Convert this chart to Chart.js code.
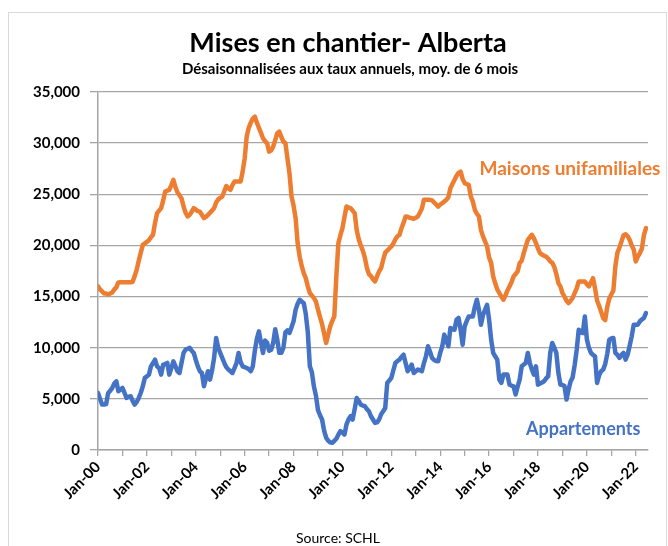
<!DOCTYPE html>
<html>
<head>
<meta charset="utf-8">
<script src="https://cdn.jsdelivr.net/npm/chart.js@4.4.0/dist/chart.umd.min.js"></script>
<style>
  html, body { margin: 0; padding: 0; background: #fff; overflow: hidden; }
  #wrap { position: relative; width: 668px; height: 546px; }
  #frame { position: absolute; left: 8px; top: 12px; width: 657px; height: 600px; border: 1px solid #d9d9d9; }
  canvas { position: absolute; left: 0; top: 0; }
</style>
</head>
<body>
<div id="wrap">
  <div id="frame"></div>
  <canvas id="chart" width="668" height="546"></canvas>
</div>
<script>
// Monthly series, Jan-00 .. Jun-22 (SAAR, 6-month average)
const chartTitle = 'Mises en chantier- Alberta';
const chartSubtitle = 'Désaisonnalisées aux taux annuels, moy. de 6 mois';
const sourceText = 'Source: SCHL';
const seriesNames = ['Maisons unifamiliales', 'Appartements'];

const tickLabels = ['Jan-00', 'Jan-02', 'Jan-04', 'Jan-06', 'Jan-08', 'Jan-10',
                    'Jan-12', 'Jan-14', 'Jan-16', 'Jan-18', 'Jan-20', 'Jan-22'];

const maisons = [
  16000, 15700, 15500, 15300, 15300, 15200, 15300, 15400, 15700, 15900, 16380, 16400, // 2000
  16400, 16400, 16400, 16400, 16400, 16450, 17000, 17620, 18500, 19300, 20060, 20200, // 2001
  20350, 20500, 20800, 21040, 22200, 23160, 23400, 23650, 24400, 25270, 25350, 25430, // 2002
  25900, 26410, 25700, 25200, 24900, 24600, 23800, 23200, 22830, 22990, 23300, 23650, // 2003
  23500, 23350, 23300, 23000, 22670, 22800, 22990, 23200, 23400, 23650, 24200, 24500, // 2004
  24650, 24780, 25300, 25800, 25600, 25430, 25900, 26240, 26240, 26240, 26240, 27200, // 2005
  28500, 30640, 31500, 32000, 32400, 32590, 32000, 31500, 31000, 30480, 30200, 29990, // 2006
  29170, 29300, 29660, 30300, 30970, 31130, 30600, 30150, 30000, 28500, 27060, 24780, // 2007
  23900, 22700, 20230, 18900, 18000, 17300, 16800, 16000, 15350, 15100, 14860, 14500, // 2008
  13720, 13000, 12300, 11400, 10470, 11300, 12090, 12600, 13060, 16970, 20230, 21000, // 2009
  21690, 22800, 23800, 23700, 23650, 23400, 23160, 21500, 20600, 20000, 19500, 18800, // 2010
  17800, 17200, 17000, 16700, 16480, 17000, 17460, 17790, 18600, 19300, 19500, 19700, // 2011
  19900, 20200, 20600, 20900, 21040, 21700, 22200, 22830, 22800, 22700, 22670, 22600, // 2012
  22700, 22830, 23200, 23600, 24460, 24460, 24460, 24460, 24400, 24200, 24000, 23800, // 2013
  24000, 24130, 24300, 24460, 24700, 25600, 26000, 26400, 26800, 27100, 27220, 26500, // 2014
  26090, 26000, 25920, 24800, 24300, 23480, 23100, 22830, 21500, 20880, 20400, 19900, // 2015
  18800, 18300, 16970, 16300, 15700, 15350, 15000, 14690, 15100, 15600, 15990, 16400, // 2016
  16970, 17200, 17460, 18280, 18500, 19250, 19900, 20550, 20800, 21040, 20700, 20230, // 2017
  19700, 19250, 19100, 19000, 18900, 18700, 18440, 18300, 17900, 17200, 16320, 16000, // 2018
  15350, 15000, 14600, 14370, 14600, 14860, 15350, 15800, 16480, 16480, 16480, 16480, // 2019
  16200, 16000, 16400, 16800, 15800, 14600, 14100, 13500, 12900, 12700, 14000, 14800, // 2020
  15200, 15600, 18000, 19300, 19800, 20400, 21000, 21100, 20900, 20550, 20000, 19600, // 2021
  18440, 18900, 19250, 19700, 21000, 21690                                              // 2022
];

const appartements = [
  5580, 5000, 4440, 4450, 4500, 5580, 5800, 6070, 6500, 6720, 5740, 5900,           // 2000
  6070, 5600, 5090, 5200, 5260, 4800, 4440, 4700, 5090, 5600, 6230, 7050,           // 2001
  7200, 7370, 8180, 8500, 8840, 8180, 8000, 7370, 8350, 8400, 8510, 7370,           // 2002
  8000, 8670, 8200, 7700, 7530, 8500, 9490, 9820, 9900, 9980, 9700, 9490,           // 2003
  8800, 8180, 7700, 7530, 6230, 7000, 7700, 6880, 7800, 9000, 10950, 10000,         // 2004
  9490, 9000, 8510, 8100, 7860, 7700, 7530, 8000, 8510, 9490, 8600, 8180,           // 2005
  8100, 8020, 7900, 7700, 8180, 9700, 10900, 11600, 10500, 9490, 10700, 10500,      // 2006
  9700, 9800, 10470, 11800, 10800, 9500, 9500, 9980, 11500, 11700, 11440, 12000,    // 2007
  12580, 13700, 14300, 14690, 14500, 14370, 13300, 11500, 8180, 7600, 6200, 5300,   // 2008
  3900, 3400, 2980, 1900, 1200, 900, 750, 700, 900, 1100, 1500, 1840,               // 2009
  1700, 1510, 2500, 3000, 3310, 2980, 4000, 5090, 4800, 4440, 4350, 4280,           // 2010
  4000, 3790, 3300, 2980, 2650, 2700, 2980, 3500, 3790, 4110, 6560, 6800,           // 2011
  7050, 7800, 8510, 8700, 8840, 9100, 9320, 8500, 7700, 8000, 8350, 7530,           // 2012
  7700, 7860, 7800, 7700, 8500, 9160, 10140, 9600, 9000, 8800, 8700, 8670,          // 2013
  9500, 10140, 11280, 10700, 10140, 11930, 11800, 11760, 12740, 12910, 11760, 10300, // 2014
  12090, 12600, 13060, 13060, 13060, 14000, 14690, 13720, 12250, 13200, 13700, 14200, // 2015
  12740, 10790, 9500, 9160, 8840, 6880, 6560, 7370, 7370, 7370, 6390, 6300,         // 2016
  6230, 5420, 6200, 6880, 8180, 8350, 8510, 9490, 8500, 7860, 7370, 8180,           // 2017
  6390, 6500, 6600, 6720, 7000, 7210, 9490, 10470, 10000, 9490, 7530, 6390,         // 2018
  6350, 6250, 4930, 5900, 6700, 7100, 8300, 9800, 11760, 11500, 11440, 13060,       // 2019
  10800, 10000, 9490, 9300, 9160, 6560, 7300, 7700, 7860, 8400, 9400, 10790,        // 2020
  10900, 10950, 9490, 9300, 9000, 9300, 9490, 8840, 9320, 10200, 11110, 12250,      // 2021
  12250, 12250, 12580, 12750, 12910, 13390                                          // 2022
];

const ORANGE = '#ED7D31';
const BLUE = '#4472C4';
const GRID = '#a6a6a6';
const FONT = 'Lato';

const toPoints = arr => arr.map((v, i) => ({ x: i, y: v }));

// titles, series labels and source line
const textPlugin = {
  id: 'texts',
  afterDraw(chart) {
    const { ctx, scales: { x, y } } = chart;
    ctx.save();
    ctx.textAlign = 'center';
    ctx.textBaseline = 'alphabetic';
    ctx.fillStyle = '#000';
    ctx.font = `bold 27px ${FONT}`;
    ctx.fillText(chartTitle, 348, 52);
    ctx.font = `bold 15px ${FONT}`;
    ctx.fillText(chartSubtitle, 350, 74);
    ctx.font = `14px ${FONT}`;
    ctx.fillText(sourceText, 338, 543);

    ctx.font = `bold 19px ${FONT}`;
    ctx.fillStyle = ORANGE;
    ctx.fillText(seriesNames[0], x.getPixelForValue(231.7), y.getPixelForValue(26900));
    ctx.font = `bold 18px ${FONT}`;
    ctx.fillStyle = BLUE;
    ctx.fillText(seriesNames[1], x.getPixelForValue(238.2), y.getPixelForValue(1500));
    ctx.restore();
  }
};

new Chart(document.getElementById('chart'), {
  type: 'line',
  data: {
    datasets: [
      { label: seriesNames[0], data: toPoints(maisons), borderColor: ORANGE, borderWidth: 4.5,
        pointRadius: 0, tension: 0, borderJoinStyle: 'round', borderCapStyle: 'round' },
      { label: seriesNames[1], data: toPoints(appartements), borderColor: BLUE, borderWidth: 4.5,
        pointRadius: 0, tension: 0, borderJoinStyle: 'round', borderCapStyle: 'round' }
    ]
  },
  options: {
    responsive: false,
    animation: false,
    layout: { padding: { top: 92, right: 20, left: 0, bottom: 0 } },
    plugins: {
      legend: { display: false },
      title: { display: false },
      tooltip: { enabled: false }
    },
    scales: {
      x: {
        type: 'linear',
        min: 0,
        max: maisons.length,
        afterBuildTicks: scale => {
          const ticks = [];
          for (let m = 0; m < maisons.length; m += 12) ticks.push({ value: m });
          scale.ticks = ticks;
        },
        afterFit: scale => { scale.height = 96; },
        ticks: {
          autoSkip: false,
          minRotation: 45,
          maxRotation: 45,
          padding: 2,
          color: '#000',
          font: { family: FONT, weight: 'bold', size: 15 },
          callback: v => (v % 24 === 0 ? tickLabels[v / 24] : '')
        },
        grid: { drawOnChartArea: false, tickLength: 6, color: GRID, lineWidth: 1.3 },
        border: { color: GRID, width: 1.5 }
      },
      y: {
        min: 0,
        max: 35000,
        afterFit: scale => { scale.width = 98; },
        ticks: {
          stepSize: 5000,
          padding: 10,
          color: '#000',
          font: { family: FONT, weight: 'bold', size: 15 },
          callback: v => v.toLocaleString('en-US')
        },
        grid: { color: GRID, lineWidth: 1.3, tickLength: 8 },
        border: { color: GRID, width: 1.5 }
      }
    }
  },
  plugins: [textPlugin]
});
</script>
</body>
</html>
